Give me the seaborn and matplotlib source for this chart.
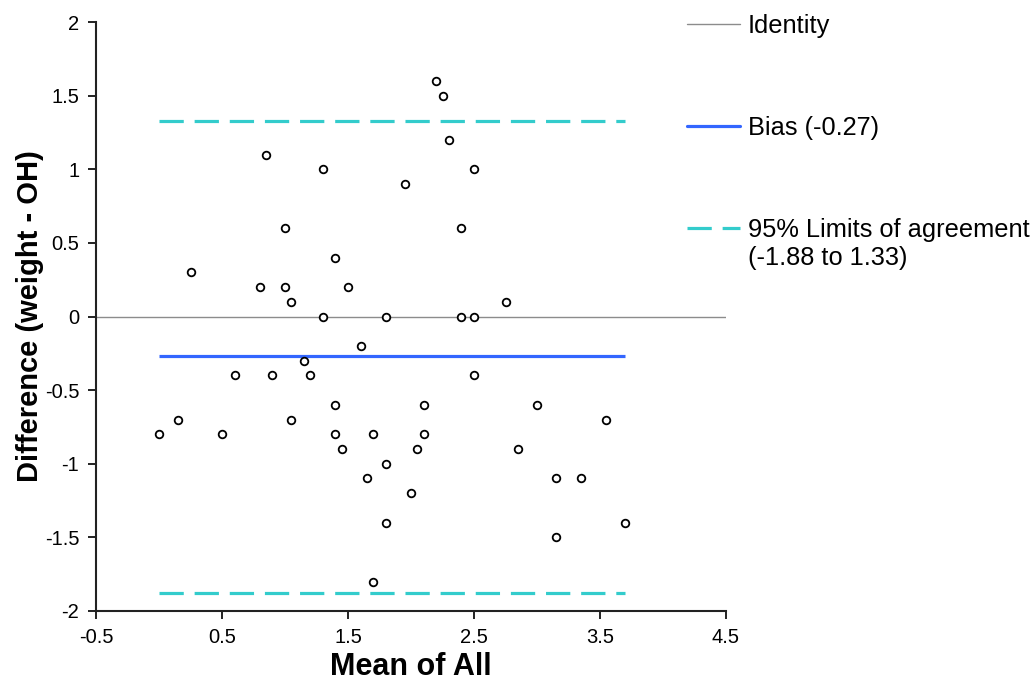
import matplotlib
matplotlib.use("Agg")
import matplotlib.pyplot as plt
import seaborn as sns
import pandas as pd
from matplotlib.lines import Line2D

# ---- data ----
mean_all = [0.0, 0.15, 0.25, 0.5, 0.6, 0.8, 0.85, 0.9, 1.0, 1.0, 1.05, 1.05, 1.15, 1.2,
            1.3, 1.3, 1.4, 1.4, 1.4, 1.45, 1.5, 1.6, 1.65, 1.7, 1.7, 1.8, 1.8, 1.8, 1.95,
            2.0, 2.05, 2.1, 2.1, 2.2, 2.25, 2.3, 2.4, 2.4, 2.5, 2.5, 2.5, 2.75, 2.85, 3.0,
            3.15, 3.15, 3.35, 3.55, 3.7]
difference = [-0.8, -0.7, 0.3, -0.8, -0.4, 0.2, 1.1, -0.4, 0.6, 0.2, 0.1, -0.7, -0.3, -0.4,
              1.0, 0.0, 0.4, -0.6, -0.8, -0.9, 0.2, -0.2, -1.1, -0.8, -1.8, 0.0, -1.0, -1.4, 0.9,
              -1.2, -0.9, -0.6, -0.8, 1.6, 1.5, 1.2, 0.6, 0.0, 1.0, 0.0, -0.4, 0.1, -0.9, -0.6,
              -1.1, -1.5, -1.1, -0.7, -1.4]
identity_value = 0.0
bias = -0.27
loa_lower = -1.88
loa_upper = 1.33

x_ticks = [-0.5, 0.5, 1.5, 2.5, 3.5, 4.5]
x_tick_labels = ["-0.5", "0.5", "1.5", "2.5", "3.5", "4.5"]
y_ticks = [2, 1.5, 1, 0.5, 0, -0.5, -1, -1.5, -2]
y_tick_labels = ["2", "1.5", "1", "0.5", "0", "-0.5", "-1", "-1.5", "-2"]

labels = ["Identity", "Bias (-0.27)", "95% Limits of agreement"]
label_second_line = "(-1.88 to 1.33)"

# ---- style ----
sns.set_style("white")
plt.rcParams["font.family"] = ["Liberation Sans", "DejaVu Sans"]
plt.rcParams["text.color"] = "black"
plt.rcParams["axes.labelcolor"] = "black"
plt.rcParams["xtick.color"] = "black"
plt.rcParams["ytick.color"] = "black"

fig = plt.figure(figsize=(10.31, 6.82), dpi=100)
ax = fig.add_axes([96 / 1031, 1 - 611 / 682, (726 - 96) / 1031, (611 - 22) / 682])

df = pd.DataFrame({"mean": mean_all, "diff": difference})

GRAY = "#8c8c8c"
BLUE = "#3366ff"
CYAN = "#33cccc"

ax.axhline(identity_value, color=GRAY, lw=1.0, zorder=1)
xr = [min(mean_all), max(mean_all)]
ax.plot(xr, [bias, bias], color=BLUE, lw=2.3, solid_capstyle="butt", zorder=2)
for v in (loa_upper, loa_lower):
    ax.plot(xr, [v, v], color=CYAN, lw=2.3, dashes=(7.6, 3.4), zorder=2)

sns.scatterplot(data=df, x="mean", y="diff", ax=ax, marker="o", s=30,
                facecolor="white", edgecolor="black", linewidth=1.3, zorder=3, legend=False)

ax.set_xlim(-0.5, 4.5)
ax.set_ylim(-2, 2)
ax.set_xticks(x_ticks)
ax.set_xticklabels(x_tick_labels)
ax.set_yticks(y_ticks)
ax.set_yticklabels(y_tick_labels)
ax.tick_params(axis="both", direction="out", length=6, width=1.4, color="#222222",
               labelsize=14.5, pad=6, bottom=True, left=True, labelcolor="black")
sns.despine(ax=ax)
for sp in ("left", "bottom"):
    ax.spines[sp].set_color("#222222")
    ax.spines[sp].set_linewidth(1.5)

ax.set_xlabel("Mean of All", fontsize=22, fontweight="bold", labelpad=4)
ax.set_ylabel("Difference (weight - OH)", fontsize=21, fontweight="bold", labelpad=0.5)

handles = [
    Line2D([], [], color=GRAY, lw=1.0),
    Line2D([], [], color=BLUE, lw=2.3),
    Line2D([], [], color=CYAN, lw=2.3, dashes=(7.6, 3.4)),
]
leg = fig.legend(handles, labels, loc="upper left",
                 bbox_to_anchor=(687 / 1031, 1 - 14 / 682),
                 frameon=False, fontsize=18.3, handlelength=2.1, handletextpad=0.3,
                 labelspacing=3.06, borderpad=0, borderaxespad=0)

fig.text(748 / 1031, 1 - 258 / 682, label_second_line, fontsize=18.3, va="center", ha="left")

fig.savefig("out.png", dpi=100)
